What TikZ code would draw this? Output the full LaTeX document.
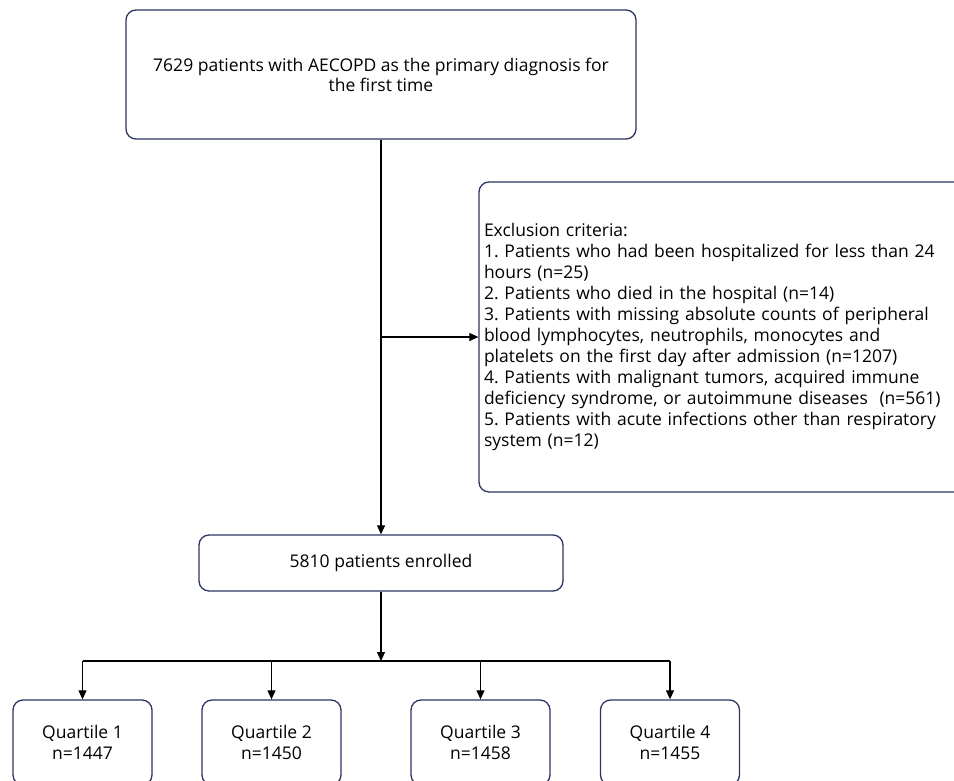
\documentclass[tikz,border=0pt]{standalone}
\usepackage{fontspec}
\setmainfont{Open Sans}
\usetikzlibrary{arrows.meta}
\definecolor{boxnavy}{HTML}{2B3462}
\frenchspacing
\begin{document}
\begin{tikzpicture}[x=1pt,y=-1pt]
            \useasboundingbox (0,0) rectangle (954,781);
            \clip (0,0) rectangle (954,781);
            \begin{scope}[every node/.style={rectangle,rounded corners=10pt,draw=boxnavy,line width=1.3pt,align=center,font=\fontsize{17.5}{21}\selectfont}]
                \node[minimum width=510pt,minimum height=129pt,font=\fontsize{17.5}{20}\selectfont] (start) at (381,74.5) {7629 patients with AECOPD as the primary diagnosis for\\the first time};
                \node[minimum width=521pt,minimum height=310pt,inner xsep=5pt,text width=511pt,align=left] (excl) at (739.5,337) {Exclusion criteria:\\
1. Patients who had been hospitalized for less than 24\\
hours (n=25)\\
2. Patients who died in the hospital (n=14)\\
3. Patients with missing absolute counts of peripheral\\
blood lymphocytes, neutrophils, monocytes and\\
platelets on the first day after admission (n=1207)\\
4. Patients with malignant tumors, acquired immune\\
deficiency syndrome, or autoimmune diseases~~(n=561)\\
5. Patients with acute infections other than respiratory\\
system (n=12)};
                \node[minimum width=364pt,minimum height=56pt] (enrol) at (381,563) {5810 patients enrolled};
                \node[minimum width=139pt,minimum height=85pt] (q1) at (82.5,742.5) {Quartile 1\\n=1447};
                \node[minimum width=139pt,minimum height=85pt] (q2) at (271.5,742.5) {Quartile 2\\n=1450};
                \node[minimum width=139pt,minimum height=85pt] (q3) at (480.5,742.5) {Quartile 3\\n=1458};
                \node[minimum width=139pt,minimum height=85pt] (q4) at (670,742.5) {Quartile 4\\n=1455};
            \end{scope}
            \coordinate (split) at (381,337);
            \coordinate (bar) at (381,661);
            \coordinate (bar1) at (82.5,661);
            \coordinate (bar2) at (271.5,661);
            \coordinate (bar3) at (480.5,661);
            \coordinate (bar4) at (670,661);
            \begin{scope}[every edge/.style={draw,line width=1.2pt,-{Triangle[length=9pt,width=8pt]}}]
                \path
                    (start) edge (enrol)
                    (split) edge (excl)
                    (enrol) edge (bar)
                    (bar1) edge (q1)
                    (bar2) edge (q2)
                    (bar3) edge (q3)
                    (bar4) edge (q4);
            \end{scope}
            \draw[line width=1.2pt] (bar1) -- (bar4);
        \end{tikzpicture}
\end{document}
